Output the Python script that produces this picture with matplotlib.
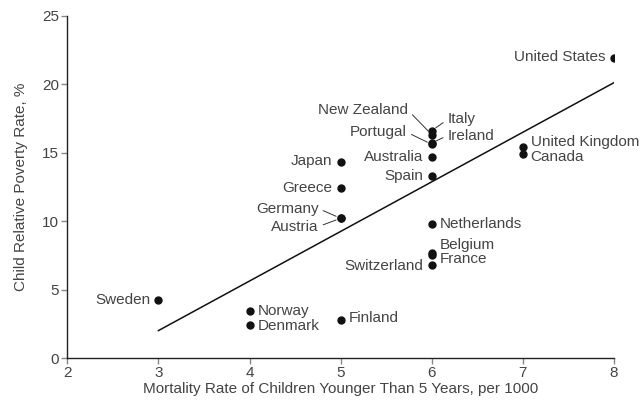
import numpy as np
import matplotlib.pyplot as plt

plt.rcParams['font.family'] = ['Liberation Sans', 'DejaVu Sans']

countries = ['Sweden', 'Norway', 'Denmark', 'Finland', 'Japan', 'Greece',
             'Germany', 'Austria', 'Netherlands', 'Belgium', 'France',
             'Switzerland', 'Spain', 'Australia', 'Ireland', 'Portugal',
             'New Zealand', 'Italy', 'United Kingdom', 'Canada', 'United States']
mortality = [3, 4, 4, 5, 5, 5, 5, 5, 6, 6, 6, 6, 6, 6, 6, 6, 6, 6, 7, 7, 8]
poverty = [4.2, 3.4, 2.4, 2.8, 14.3, 12.4, 10.2, 10.2, 9.8, 7.7, 7.5,
           6.8, 13.3, 14.7, 15.7, 15.6, 16.3, 16.6, 15.4, 14.9, 21.9]

# trend line as drawn in the original
trend_x = [3, 8]
trend_y = [2.0, 20.1]

x_ticks = [2, 3, 4, 5, 6, 7, 8]
y_ticks = [0, 5, 10, 15, 20, 25]

# label placement: (dx, dy) in points, horizontal alignment, leader line
label_pos = {
    'Sweden': (-6, 0, 'right', False),
    'Norway': (6, 0, 'left', False),
    'Denmark': (6, -0.8, 'left', False),
    'Finland': (6, 1, 'left', False),
    'Japan': (-6, 0.5, 'right', False),
    'Greece': (-6, 0, 'right', False),
    'Germany': (-16, 7, 'right', True),
    'Austria': (-16, -6, 'right', True),
    'Netherlands': (6, 0, 'left', False),
    'Belgium': (6, 5.5, 'left', False),
    'France': (6, -2.8, 'left', False),
    'Switzerland': (-6, -0.6, 'right', False),
    'Spain': (-6, 0, 'right', False),
    'Australia': (-6, 0, 'right', False),
    'Ireland': (11.5, 5.3, 'left', True),
    'Portugal': (-18, 8.7, 'right', True),
    'New Zealand': (-17, 17.5, 'right', True),
    'Italy': (11.5, 8, 'left', True),
    'United Kingdom': (5.5, 3.9, 'left', False),
    'Canada': (5.5, -1.9, 'left', False),
    'United States': (-6, 0.6, 'right', False),
}

text_color = '#444444'

fig = plt.figure(figsize=(6.42, 4.08), dpi=100)
ax = fig.add_axes([0.1048, 0.1225, 0.8516, 0.8395])

ax.plot(trend_x, trend_y, color='#111111', lw=1.1, zorder=1)
ax.plot(mortality, poverty, 'o', color='#111111', ms=5, zorder=3)

for name, x, y in zip(countries, mortality, poverty):
    dx, dy, ha, leader = label_pos[name]
    props = None
    if leader:
        props = dict(arrowstyle='-', color='#333333', lw=0.7,
                     shrinkA=1.5, shrinkB=3.5,
                     relpos=(1, 0.5) if ha == 'right' else (0, 0.5))
    ax.annotate(name, (x, y), xytext=(dx, dy), textcoords='offset points',
                ha=ha, va='center', fontsize=11, color=text_color,
                arrowprops=props, annotation_clip=False, zorder=4)

ax.set_xlim(2, 8)
ax.set_ylim(0, 25)
ax.set_xticks(x_ticks)
ax.set_yticks(y_ticks)
for s in ['top', 'right']:
    ax.spines[s].set_visible(False)
for s in ['left', 'bottom']:
    ax.spines[s].set_color('#222222')
    ax.spines[s].set_linewidth(1.0)
ax.tick_params(direction='out', length=4, width=1, color='#888888',
               labelsize=11, labelcolor=text_color, pad=2)

ax.set_xlabel('Mortality Rate of Children Younger Than 5 Years, per 1000',
              fontsize=11, color=text_color, labelpad=1)
ax.set_ylabel('Child Relative Poverty Rate, %', fontsize=11,
              color=text_color, labelpad=10)

fig.savefig('out.png', dpi=100)
